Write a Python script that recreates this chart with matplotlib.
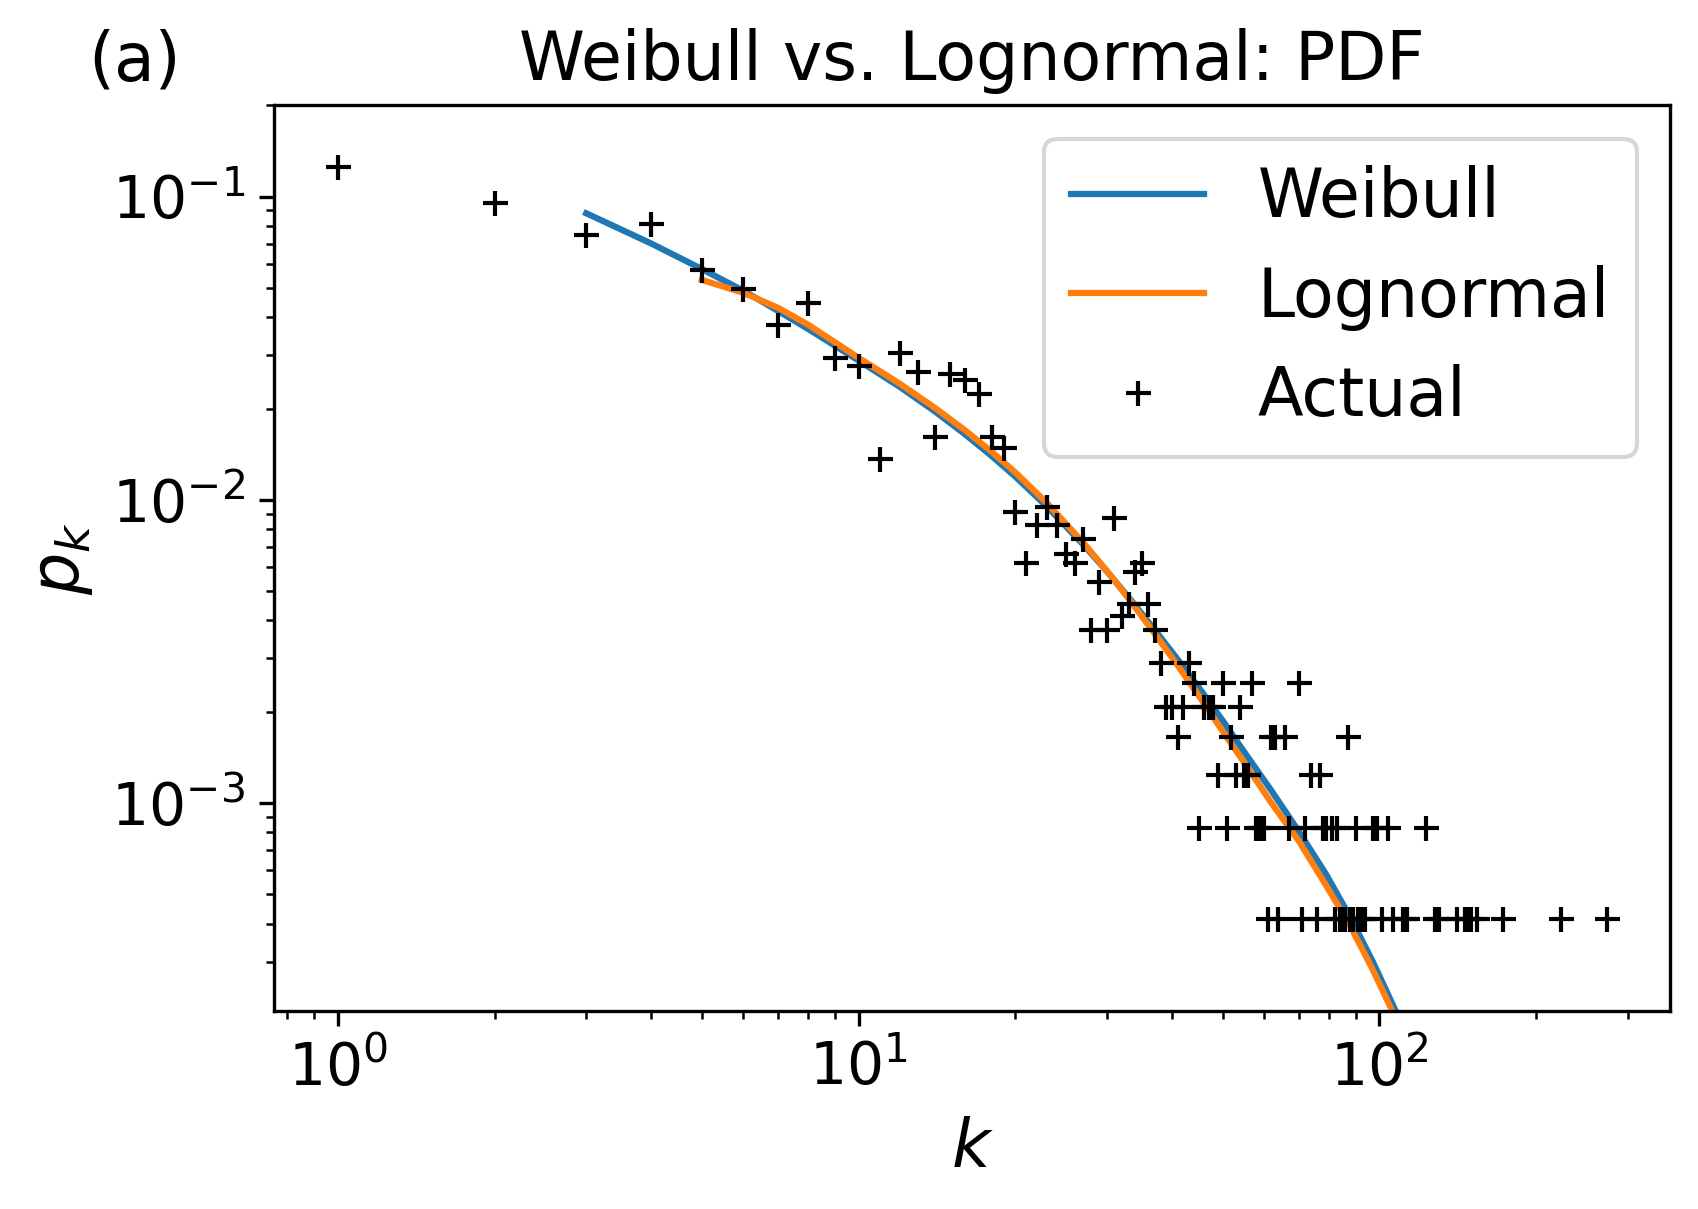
import numpy as np
import matplotlib
matplotlib.use("Agg")
from matplotlib import pyplot as plt

# degree k and number of nodes with that degree
N_NODES = 2420
k_vals = [1, 2, 3, 4, 5, 6, 7, 8, 9, 10, 11, 12, 13, 14, 15, 16, 17, 18, 19, 20,
          21, 22, 23, 24, 25, 26, 27, 28, 29, 30, 31, 32, 33, 34, 35, 36, 37, 38,
          39, 40, 41, 42, 43, 44, 45, 46, 47, 48, 49, 50, 51, 52, 53, 54, 55, 56,
          57, 58, 59, 60, 61, 62, 63, 64, 66, 67, 70, 71, 72, 74, 76, 77, 78, 79,
          81, 82, 83, 84, 85, 86, 87, 88, 89, 90, 91, 92, 94, 97, 99, 101, 104,
          106, 111, 113, 123, 128, 130, 141, 146, 148, 150, 154, 173, 223, 273]
counts = [302, 230, 181, 196, 139, 120, 91, 108, 71, 67, 33, 74, 64, 39, 63, 60, 54, 39, 36, 22,
          15, 20, 23, 20, 16, 15, 18, 9, 13, 9, 21, 10, 11, 14, 15, 11, 9, 7,
          5, 5, 4, 5, 7, 6, 2, 5, 5, 5, 3, 6, 2, 4, 3, 5, 3, 3,
          6, 2, 2, 2, 1, 4, 4, 1, 4, 2, 6, 1, 2, 3, 1, 3, 2, 2,
          2, 1, 2, 1, 1, 1, 4, 1, 1, 2, 1, 1, 1, 2, 2, 1, 2,
          1, 1, 1, 2, 1, 1, 1, 1, 1, 1, 1, 1, 1, 1]

# fitted curves
weib_k = [3, 4, 5, 6, 7, 8, 10, 12, 14, 16, 18, 20, 23, 27, 30, 33, 37, 41, 45,
          50, 55, 62, 70, 79, 88, 97, 106, 115]
weib_p = [0.0881, 0.0700, 0.0577, 0.0490, 0.0420, 0.0366, 0.0288, 0.02357, 0.01959,
          0.01646, 0.01396, 0.01192, 0.00950, 0.00712, 0.00580, 0.00477, 0.00373,
          0.002975, 0.002405, 0.001872, 0.001475, 0.00110, 0.000807, 0.000582,
          0.000419, 0.000301, 0.000217, 0.000157]

logn_k = [5, 6, 7, 8, 10, 12, 14, 16, 18, 20, 23, 27, 30, 33, 37, 41, 45, 50, 55,
          62, 70, 79, 88, 97, 106, 115]
logn_p = [0.0531, 0.0482, 0.0430, 0.0378, 0.0294, 0.02414, 0.02013, 0.01697, 0.01442,
          0.01231, 0.00976, 0.00722, 0.00582, 0.00472, 0.003626, 0.00284, 0.00226,
          0.001726, 0.00136, 0.001002, 0.00075, 0.000535, 0.000392, 0.000283,
          0.000205, 0.000148]

pk = np.array(counts) / N_NODES

fig = plt.figure(figsize=(1698/300, 1209/300), dpi=300)
ax = fig.add_axes([0.16155, 0.16402, 0.82197, 0.74888])

ax.plot(weib_k, weib_p, label='Weibull')
ax.plot(logn_k, logn_p, label='Lognormal')
ax.plot(k_vals, pk, '+', color='k', label='Actual')

ax.set_xscale('log')
ax.set_yscale('log')
ax.set_ylim(0.5/N_NODES, 0.2)

ax.set_title('Weibull vs. Lognormal: PDF', fontsize=16)
ax.text(-0.1335, 1.0276, '(a)', transform=ax.transAxes, fontsize=16, va='baseline')
ax.set_xlabel('$k$', fontsize=16)
ax.set_ylabel('$p_k$', fontsize=16)
ax.tick_params(labelsize=14)
ax.legend(fontsize=16, loc='upper right')

fig.savefig('out.png', dpi=300)
